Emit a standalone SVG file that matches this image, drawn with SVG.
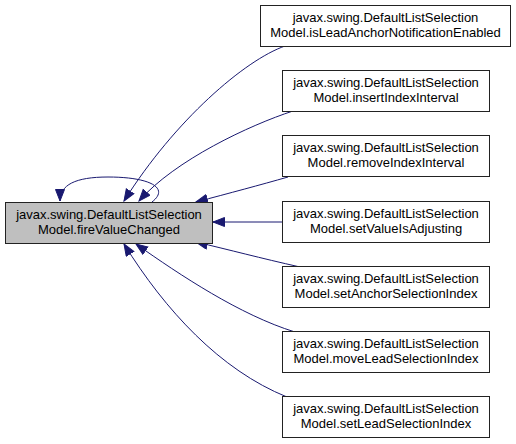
<svg xmlns="http://www.w3.org/2000/svg" width="516" height="444" viewBox="0 0 516 444">
<style>
.n rect{fill:#ffffff;stroke:#222222;stroke-width:1}
.n.main rect{fill:#bfbfbf}
.n text{font-family:"Liberation Sans",Arial,sans-serif;font-size:13px;text-anchor:middle;fill:#000000}
.e path{fill:none;stroke:#191970;stroke-width:1;marker-end:url(#ah)}
</style>
<defs>
<marker id="ah" markerUnits="userSpaceOnUse" markerWidth="13" markerHeight="11" refX="12" refY="5" orient="auto">
<path d="M0.5,0.5 L12,5 L0.5,9.5 z" fill="#191970" stroke="#191970" stroke-width="1"/>
</marker>
</defs>
<rect width="516" height="444" fill="#ffffff"/>
<g id="edges" class="e">
<path d="M152,202 C170,188 150,177 108,177 C75,177 60,185 60,201"/>
<path d="M285,46 C245,60 175,120 124,201"/>
<path d="M293,111 C250,125 175,160 139,201"/>
<path d="M288,177 C260,185 230,193 196,202"/>
<path d="M282,222 L213,222"/>
<path d="M300,267 C260,258 230,250 196,242"/>
<path d="M295,332 C240,315 180,275 136,244"/>
<path d="M287,397 C220,370 165,310 124,244"/>
</g>
<g id="fireValueChanged" class="n main">
<rect x="5.5" y="202.5" width="207" height="41"/>
<text x="109" y="219">javax.swing.DefaultListSelection</text>
<text x="109" y="234">Model.fireValueChanged</text>
</g>
<g id="isLeadAnchorNotificationEnabled" class="n">
<rect x="260.5" y="5.5" width="250" height="41"/>
<text x="385.5" y="22">javax.swing.DefaultListSelection</text>
<text x="385.5" y="37">Model.isLeadAnchorNotificationEnabled</text>
</g>
<g id="insertIndexInterval" class="n">
<rect x="282.5" y="70.5" width="207" height="41"/>
<text x="386" y="87">javax.swing.DefaultListSelection</text>
<text x="386" y="102">Model.insertIndexInterval</text>
</g>
<g id="removeIndexInterval" class="n">
<rect x="282.5" y="135.5" width="207" height="41"/>
<text x="386" y="152">javax.swing.DefaultListSelection</text>
<text x="386" y="167">Model.removeIndexInterval</text>
</g>
<g id="setValueIsAdjusting" class="n">
<rect x="282.5" y="201.5" width="207" height="41"/>
<text x="386" y="218">javax.swing.DefaultListSelection</text>
<text x="386" y="233">Model.setValueIsAdjusting</text>
</g>
<g id="setAnchorSelectionIndex" class="n">
<rect x="282.5" y="266.5" width="207" height="41"/>
<text x="386" y="283">javax.swing.DefaultListSelection</text>
<text x="386" y="298">Model.setAnchorSelectionIndex</text>
</g>
<g id="moveLeadSelectionIndex" class="n">
<rect x="282.5" y="331.5" width="207" height="41"/>
<text x="386" y="348">javax.swing.DefaultListSelection</text>
<text x="386" y="363">Model.moveLeadSelectionIndex</text>
</g>
<g id="setLeadSelectionIndex" class="n">
<rect x="282.5" y="396.5" width="207" height="41"/>
<text x="386" y="413">javax.swing.DefaultListSelection</text>
<text x="386" y="428">Model.setLeadSelectionIndex</text>
</g>
</svg>
